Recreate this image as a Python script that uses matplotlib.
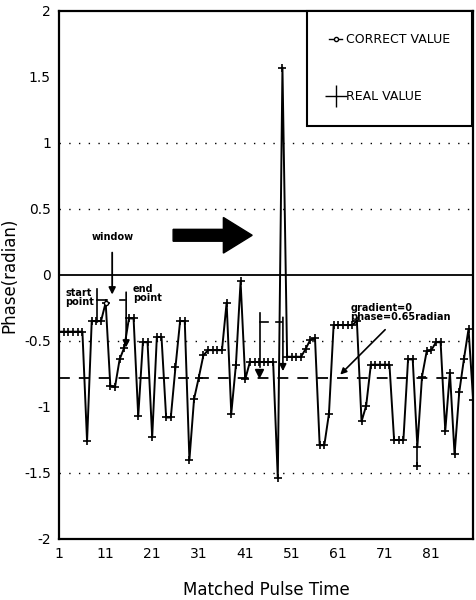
import matplotlib

matplotlib.use("Agg")

import matplotlib.pyplot as plt
from matplotlib.lines import Line2D

# measured phase per matched pulse time
pulse = list(range(1, 91))
phase = [
    -0.43, -0.43, -0.43, -0.43, -0.43, -0.43, -1.26, -0.35, -0.35, -0.35,
    -0.21, -0.84, -0.85, -0.64, -0.55, -0.33, -0.33, -1.07, -0.51, -0.51,
    -1.23, -0.47, -0.47, -1.08, -1.08, -0.70, -0.35, -0.35, -1.40, -0.94,
    -0.78, -0.61, -0.57, -0.57, -0.57, -0.57, -0.21, -1.05, -0.68, -0.05,
    -0.79, -0.66, -0.66, -0.66, -0.66, -0.66, -0.66, -1.54, 1.57, -0.62,
    -0.62, -0.62, -0.62, -0.56, -0.49, -0.48, -1.29, -1.29, -1.05, -0.38,
    -0.38, -0.38, -0.38, -0.38, -0.35, -1.11, -0.99, -0.68, -0.68, -0.68,
    -0.68, -0.68, -1.25, -1.25, -1.25, -0.64, -0.64, -1.30, -0.77, -0.58,
    -0.57, -0.51, -0.51, -1.18, -0.74, -1.36, -0.89, -0.64, -0.41, -0.95,
]
correct_phase = -0.78
correct_x = [11]
correct_y = [-0.21]
stray_x = [78]
stray_y = [-1.45]
dotted_levels = [1.0, 0.5, -0.5, -1.5]

x_ticks = [1, 11, 21, 31, 41, 51, 61, 71, 81]
y_ticks = [2, 1.5, 1, 0.5, 0, -0.5, -1, -1.5, -2]
y_tick_labels = ["2", "1.5", "1", "0.5", "0", "-0.5", "-1", "-1.5", "-2"]

fig = plt.figure(figsize=(4.77, 6.0), dpi=100)
ax = fig.add_axes([0.124, 0.1017, 0.868, 0.8803])

# reference lines
for lv in dotted_levels:
    ax.axhline(lv, color="black", lw=1.0, ls=(0, (1, 6)))
ax.axhline(0, color="black", lw=1.3)
ax.axhline(correct_phase, color="black", lw=1.3, ls=(0, (6, 5)))

# data
ax.plot(pulse, phase, color="black", lw=1.4, marker="+", ms=6, mew=1.2)
ax.plot(correct_x, correct_y, ls="none", marker="o", ms=3, mfc="white", mec="black")
ax.plot(stray_x, stray_y, ls="none", marker="+", ms=6, mew=1.2, color="black")
ax.vlines(stray_x, -1.33, stray_y, color="black", lw=1.2)

# window annotations
bold = dict(fontsize=7, fontweight="bold", color="black")
ax.text(12.6, 0.29, "window", ha="center", va="center", **bold)
ax.annotate("", xy=(12.4, -0.17), xytext=(12.4, 0.19),
            arrowprops=dict(arrowstyle="-|>", color="black", lw=1.3, mutation_scale=10))
ax.text(2.3, -0.17, "start\npoint", ha="left", va="center", linespacing=0.9, **bold)
ax.text(16.9, -0.14, "end\npoint", ha="left", va="center", linespacing=0.9, **bold)
ax.plot([9.2, 9.2], [-0.11, -0.36], color="black", lw=1.2)
ax.plot([9.2, 11.3], [-0.19, -0.19], color="black", lw=1.2)
ax.plot([14.1, 15.2], [-0.19, -0.19], color="black", lw=1.2)
ax.annotate("", xy=(15.4, -0.57), xytext=(15.4, -0.11),
            arrowprops=dict(arrowstyle="-|>", color="black", lw=1.2, mutation_scale=10))

# window moved on
ax.plot([44.2, 44.2], [-0.29, -0.70], color="black", lw=1.2)
ax.plot([44.2, 46.0], [-0.36, -0.36], color="black", lw=1.2)
ax.plot([44.0], [-0.74], marker="v", ms=6, color="black")
ax.plot([47.6, 49.0], [-0.36, -0.36], color="black", lw=1.2)
ax.annotate("", xy=(49.1, -0.75), xytext=(49.1, -0.30),
            arrowprops=dict(arrowstyle="-|>", color="black", lw=1.2, mutation_scale=10))

ax.arrow(25.5, 0.30, 17.0, 0, width=0.09, head_width=0.27, head_length=6.2,
         length_includes_head=True, color="black")

ax.text(63.6, -0.21, "gradient=0\nphase=0.65radian", ha="left", va="top",
        linespacing=0.95, **bold)
ax.annotate("", xy=(61.0, -0.77), xytext=(71.5, -0.40),
            arrowprops=dict(arrowstyle="-|>", color="black", lw=1.2, mutation_scale=9))

# legend
handles = [
    Line2D([], [], color="black", lw=1.0, marker="o", ms=3, mfc="white"),
    Line2D([], [], color="black", lw=0, marker="+", ms=16, mew=1.0),
]
leg = ax.legend(handles, ["CORRECT VALUE", "REAL VALUE"], loc="upper right",
                bbox_to_anchor=(0.998, 1.0), frameon=True, fancybox=False,
                edgecolor="black", framealpha=1, borderpad=1.8, labelspacing=3.5,
                handlelength=1.0, handletextpad=0.3, borderaxespad=0,
                prop=dict(size=9))
leg.get_frame().set_linewidth(1.5)

ax.set_xlim(1, 90)
ax.set_ylim(-2, 2)
ax.set_xticks(x_ticks)
ax.set_yticks(y_ticks)
ax.set_yticklabels(y_tick_labels)
ax.tick_params(length=0, labelsize=10, pad=6)
for s in ax.spines.values():
    s.set_linewidth(1.6)

ax.set_xlabel("Matched Pulse Time", fontsize=12, labelpad=14)
ax.set_ylabel("Phase(radian)", fontsize=12, labelpad=4)

fig.savefig("out.png", dpi=100)
